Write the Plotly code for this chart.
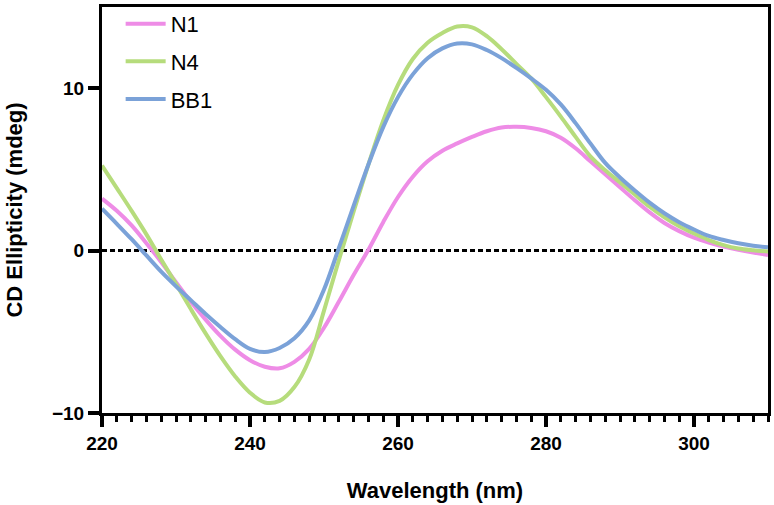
import plotly.graph_objects as go

# Wavelength grid (nm) and ellipticity (mdeg)
wavelength = [220, 222, 224, 226, 228, 230, 232, 234, 236, 238, 240, 242, 244, 246, 248, 250,
              252, 254, 256, 258, 260, 262, 264, 266, 268, 270, 272, 274, 276, 278, 280, 282,
              284, 286, 288, 290, 292, 294, 296, 298, 300, 302, 304, 306, 308, 310]

n1_cd = [3.20, 2.45, 1.55, 0.45, -0.70, -1.95, -3.15, -4.25, -5.25, -6.10, -6.75, -7.15,
         -7.25, -6.85, -6.05, -4.75, -3.15, -1.50, 0.05, 1.75, 3.30, 4.55, 5.50, 6.15, 6.60,
         7.00, 7.35, 7.58, 7.62, 7.55, 7.35, 6.95, 6.30, 5.50, 4.70, 3.90, 3.10, 2.35, 1.70,
         1.20, 0.80, 0.50, 0.25, 0.05, -0.12, -0.27]

n4_cd = [5.24, 3.85, 2.45, 1.00, -0.55, -2.05, -3.60, -5.10, -6.50, -7.75, -8.75, -9.35,
         -9.25, -8.40, -6.70, -3.70, -0.60, 2.40, 5.30, 8.00, 10.20, 11.80, 12.80, 13.40,
         13.80, 13.75, 13.20, 12.40, 11.50, 10.60, 9.45, 8.25, 7.00, 5.80, 4.95, 4.20, 3.45,
         2.70, 2.05, 1.50, 1.05, 0.65, 0.34, 0.13, 0.02, -0.06]

bb1_cd = [2.58, 1.65, 0.70, -0.30, -1.30, -2.20, -3.05, -3.90, -4.70, -5.45, -6.05, -6.25,
          -6.00, -5.40, -4.30, -2.40, 0.15, 2.75, 5.30, 7.60, 9.45, 10.85, 11.85, 12.45,
          12.75, 12.70, 12.35, 11.85, 11.25, 10.60, 9.90, 9.00, 7.85, 6.60, 5.40, 4.50, 3.70,
          2.95, 2.30, 1.75, 1.30, 0.90, 0.65, 0.45, 0.30, 0.20]

series_names = ["N1", "N4", "BB1"]
series_colors = ["#EE8CE6", "#B6DC7C", "#7BA2D8"]

zero_line_wl = [220, 304]
x_ticks = [220, 240, 260, 280, 300]
y_ticks = [-10, 0, 10]

fig = go.Figure()

fig.add_shape(type="line", xref="x", yref="y", x0=zero_line_wl[0], x1=zero_line_wl[1],
              y0=0, y1=0, layer="below",
              line=dict(color="black", width=3, dash="5px,3px"))

for name, cd, col in zip(series_names, [n1_cd, n4_cd, bb1_cd], series_colors):
    fig.add_trace(go.Scatter(x=wavelength, y=cd, mode="lines", name=name, legendgroup=name,
                             line=dict(color=col, width=4, shape="spline", smoothing=1)))

tick_font = dict(family="Liberation Sans, Arial", size=19, color="black", weight="bold")
title_font = dict(family="Liberation Sans, Arial", size=22, color="black", weight="bold")

fig.update_layout(
    width=774, height=505,
    margin=dict(l=102, r=3, t=3, b=92),
    paper_bgcolor="white", plot_bgcolor="white",
    showlegend=True,
    legend=dict(x=0.028, y=1.01, xanchor="left", yanchor="top",
                font=dict(family="Liberation Sans, Arial", size=22, color="black"),
                tracegroupgap=6, bgcolor="rgba(0,0,0,0)", itemwidth=40),
    xaxis=dict(range=[220, 310], tickvals=x_ticks, ticks="outside", ticklen=11, tickwidth=3.5,
               tickcolor="black", showline=True, linewidth=3, linecolor="black", mirror=True,
               showgrid=False, zeroline=False, tickfont=tick_font,
               minor=dict(dtick=2, tick0=220, ticks="outside", ticklen=6, tickwidth=2.5,
                          tickcolor="black", showgrid=False),
               title=dict(text="Wavelength (nm)", font=title_font, standoff=30)),
    yaxis=dict(range=[-10, 15], tickvals=y_ticks, ticks="outside", ticklen=11, tickwidth=3.5,
               tickcolor="black", showline=True, linewidth=3, linecolor="black", mirror=True,
               showgrid=False, zeroline=False, tickfont=tick_font,
               title=dict(text="CD Ellipticity (mdeg)", font=title_font, standoff=24)),
)

fig.write_html("out.html")
